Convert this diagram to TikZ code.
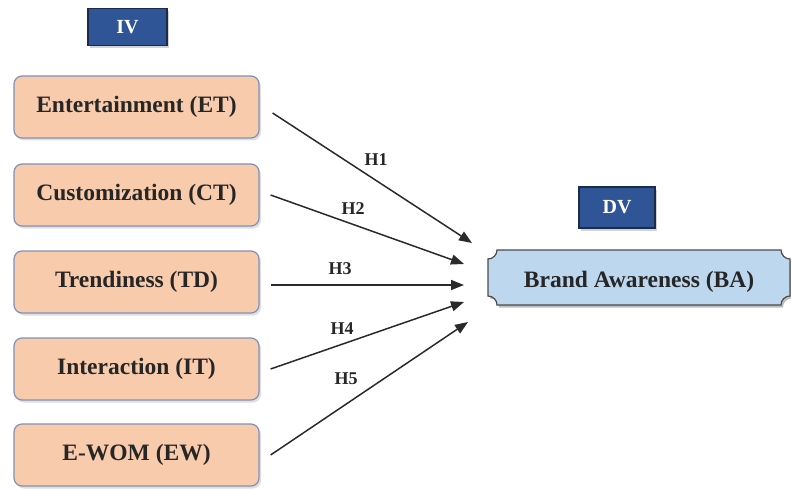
\documentclass[tikz,border=0pt]{standalone}
\usepackage{fontspec}
\setmainfont{Liberation Serif}
\usepackage{tikz}
\usetikzlibrary{arrows.meta,shadows}

\definecolor{peach}{HTML}{F8CBAD}
\definecolor{peachline}{HTML}{7F91B5}
\definecolor{tagblue}{HTML}{2F5597}
\definecolor{tagline}{HTML}{1C2B48}
\definecolor{babg}{HTML}{BDD7EE}
\definecolor{arrowgray}{HTML}{2A2A2A}

\tikzset{
  ivbox/.style={draw=peachline, line width=1.2pt, fill=peach, rounded corners=8pt,
    minimum width=245pt, minimum height=62pt,
    font=\fontsize{23.5}{27}\selectfont\bfseries, text=black!85,
    drop shadow={shadow xshift=2pt, shadow yshift=-2.5pt, opacity=.25}},
  tagbox/.style={draw=tagline, line width=1.2pt, fill=tagblue, text=white,
    font=\fontsize{20}{23}\selectfont\bfseries,
    drop shadow={shadow xshift=2pt, shadow yshift=-2.5pt, opacity=.35}},
  hyp/.style={draw=arrowgray, line width=1.5pt, -{Triangle[length=13pt,width=10pt]}},
  hlabel/.style={font=\fontsize{18}{21}\selectfont\bfseries, text=black!85}
}

\begin{document}
\begin{tikzpicture}[x=1pt,y=-1pt]
  \useasboundingbox (0,0) rectangle (791,489);

  % group tags
  \node[tagbox, minimum width=79pt, minimum height=37pt] (iv) at (127.5,27) {IV};
  \node[tagbox, minimum width=76pt, minimum height=41pt] (dv) at (617,207.5) {DV};

  % independent variables
  \node[ivbox] (et) at (136.5,107) {Entertainment (ET)};
  \node[ivbox] (ct) at (136.5,195) {Customization (CT)};
  \node[ivbox] (td) at (136.5,282) {Trendiness (TD)};
  \node[ivbox] (it) at (136.5,369) {Interaction (IT)};
  \node[ivbox] (ew) at (136.5,455) {E-WOM (EW)};

  % dependent variable (plaque)
  \fill[black, opacity=.25, xshift=2pt, yshift=-2.5pt]
    (488,259) .. controls (492.95,259) and (497,254.95) .. (497,250) -- (781,250)
    .. controls (781,254.95) and (785.05,259) .. (790,259) -- (790,296)
    .. controls (785.05,296) and (781,300.05) .. (781,305) -- (497,305)
    .. controls (497,300.05) and (492.95,296) .. (488,296) -- cycle;
  \draw[fill=babg, draw=black!70, line width=1.2pt]
    (488,259) .. controls (492.95,259) and (497,254.95) .. (497,250) -- (781,250)
    .. controls (781,254.95) and (785.05,259) .. (790,259) -- (790,296)
    .. controls (785.05,296) and (781,300.05) .. (781,305) -- (497,305)
    .. controls (497,300.05) and (492.95,296) .. (488,296) -- cycle;
  \node[font=\fontsize{23.5}{27}\selectfont\bfseries, text=black!85] (ba) at (639,282) {Brand Awareness (BA)};

  % arrow ends
  \coordinate (e1) at (472,243);
  \coordinate (e2) at (464,264);
  \coordinate (e3) at (464,285);
  \coordinate (e4) at (464,302);
  \coordinate (e5) at (468,322);

  \draw[hyp] ([xshift=13pt,yshift=-6pt]et.east) -- (e1);
  \draw[hyp] ([xshift=11pt]ct.east) -- (e2);
  \draw[hyp] ([xshift=11pt,yshift=-3pt]td.east) -- (e3);
  \draw[hyp] ([xshift=11pt]it.east) -- (e4);
  \draw[hyp] ([xshift=11pt]ew.east) -- (e5);

  \node[hlabel] (h1) at (376,160) {H1};
  \node[hlabel] (h2) at (353,209) {H2};
  \node[hlabel] (h3) at (340,269) {H3};
  \node[hlabel] (h4) at (342,329) {H4};
  \node[hlabel] (h5) at (346,379) {H5};
\end{tikzpicture}
\end{document}
